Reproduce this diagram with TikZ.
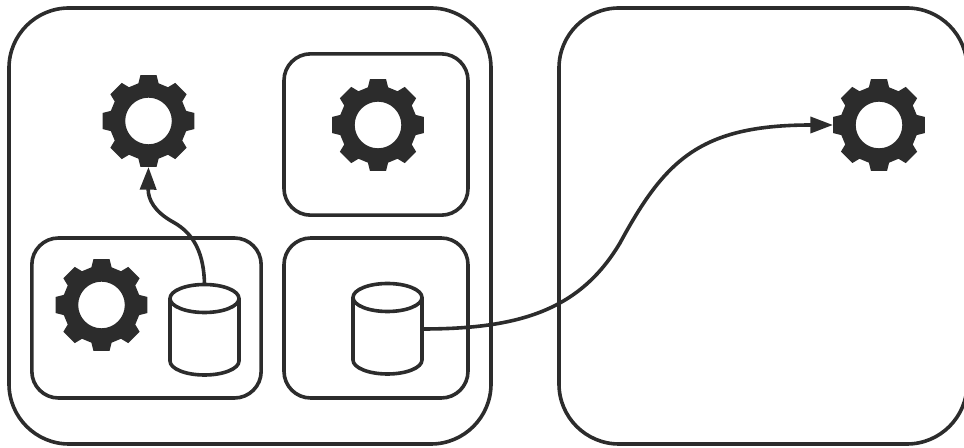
\documentclass[tikz,border=0pt]{standalone}
\usepackage{xcolor}
\usetikzlibrary{arrows.meta}
\definecolor{inkgray}{RGB}{44,44,44}

\tikzset{
  hostbox/.style={draw=inkgray,line width=2.7pt,rounded corners=45pt,inner sep=0pt,outer sep=0pt},
  podbox/.style={draw=inkgray,line width=2.7pt,rounded corners=20pt,inner sep=0pt,outer sep=0pt},
  gearnode/.style={circle,inner sep=0pt,outer sep=0pt,minimum size=69pt},
  dbnode/.style={rectangle,inner sep=0pt,outer sep=0pt,minimum width=51.75pt,minimum height=68pt},
  linkarrow/.style={draw=inkgray,line width=2.7pt,-{Triangle[length=17pt,width=12pt]}},
  gearicon/.pic={
    \fill[inkgray,even odd rule]
      (-15:39) \foreach \a in {0,45,...,315} {
        -- (\a-15:39) -- (\a-10:46.5) -- (\a+10:46.5) -- (\a+15:39)
      } -- cycle
      (0,0) circle (23.3);
  },
  dbicon/.pic={
    \draw[inkgray,line width=2.7pt] (0,-31.5) ellipse [x radius=34.5,y radius=14];
    \draw[inkgray,line width=2.7pt] (-34.5,-31.5) -- (-34.5,31)
      arc [start angle=180,end angle=0,x radius=34.5,y radius=14] -- (34.5,-31.5);
  }
}

\begin{document}
\begin{tikzpicture}[x=0.75pt,y=-0.75pt]
  \useasboundingbox (0,0) rectangle (964,448);

  \node[hostbox,minimum width=361.5pt,minimum height=327pt] (hostA) at (250,226) {};
  \node[hostbox,minimum width=306pt,minimum height=327pt] (hostB) at (763,226) {};

  \node[podbox,minimum width=138pt,minimum height=121pt] (podTop) at (376,134.5) {};
  \node[podbox,minimum width=172pt,minimum height=120pt] (podLeft) at (146.5,318) {};
  \node[podbox,minimum width=138pt,minimum height=120pt] (podRight) at (376,318) {};

  \node[gearnode] (gearA) at (148.5,121) {};
  \node[gearnode] (gearB) at (378,125) {};
  \node[gearnode] (gearC) at (101.5,305) {};
  \node[gearnode] (gearD) at (879,125) {};
  \foreach \g in {gearA,gearB,gearC,gearD}
    \pic at (\g) {gearicon};

  \node[dbnode] (dbLeft) at (204.5,330) {};
  \node[dbnode] (dbRight) at (387.5,329) {};
  \foreach \d in {dbLeft,dbRight}
    \pic at (\d) {dbicon};

  \coordinate (bendA) at (173,222);
  \coordinate (bendB) at (620,243);

  \draw[linkarrow] (dbLeft.north) .. controls (204,255) and (195,234) .. (bendA)
    .. controls (155,212) and (148,200) .. (gearA.south);
  \draw[linkarrow] (dbRight.east) .. controls (520,329) and (580,310) .. (bendB)
    .. controls (665,160) and (700,125) .. (gearD.west);
\end{tikzpicture}
\end{document}
